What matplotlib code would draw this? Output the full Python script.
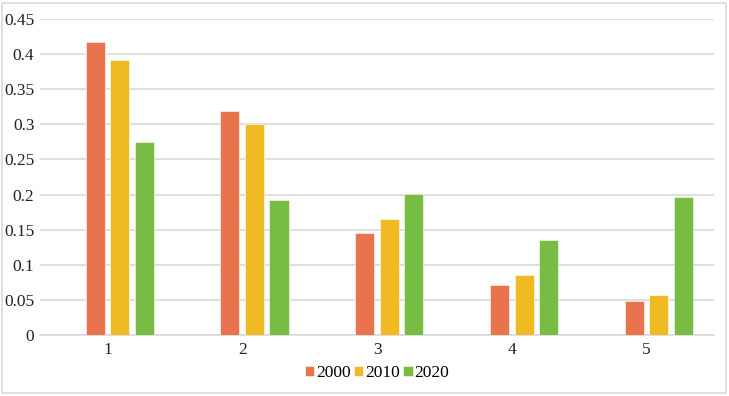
import matplotlib

matplotlib.use("Agg")
import matplotlib.pyplot as plt
import numpy as np
from matplotlib.patches import Rectangle

plt.rcParams["font.family"] = ["Liberation Serif", "DejaVu Serif"]

categories = ["1", "2", "3", "4", "5"]
years = ["2000", "2010", "2020"]
v2000 = [0.417, 0.319, 0.145, 0.071, 0.048]
v2010 = [0.392, 0.300, 0.165, 0.085, 0.057]
v2020 = [0.275, 0.192, 0.201, 0.135, 0.196]
colors = ["#E8734C", "#F0BB22", "#78BC43"]

fig = plt.figure(figsize=(7.29, 3.96), dpi=100)
ax = fig.add_axes([40 / 729, 1 - 335 / 396, 674 / 729, 316 / 396])

x = np.arange(1, len(categories) + 1)
step = 0.182
width = 0.141
# first slot of each group is empty in the original chart
for i, (vals, c, lab) in enumerate(zip([v2000, v2010, v2020], colors, years)):
    off = (i + 1 - 1.5) * step
    ax.bar(x + off, vals, width, color=c, label=lab, edgecolor="white", linewidth=0.4, zorder=3)

ax.set_xlim(0.5, 5.5)
ax.set_ylim(0, 0.45)
ax.set_yticks(np.arange(0, 0.451, 0.05))
ax.set_yticklabels(["0", "0.05", "0.1", "0.15", "0.2", "0.25", "0.3", "0.35", "0.4", "0.45"])
ax.set_xticks(x)
ax.set_xticklabels(categories)
ax.tick_params(axis="both", length=0, labelsize=12.5, colors="#222222")
ax.tick_params(axis="x", pad=5)
ax.tick_params(axis="y", pad=4)
ax.grid(axis="y", color="#D9D9D9", linewidth=1.2, zorder=0)
for s in ["top", "right", "left"]:
    ax.spines[s].set_visible(False)
ax.spines["bottom"].set_color("#D9D9D9")
ax.spines["bottom"].set_linewidth(1.2)

ax.legend(loc="center", bbox_to_anchor=(0.5, (373 - 335) / -316),
          ncol=3, frameon=False, fontsize=12.5, handlelength=0.55, handleheight=0.55,
          handletextpad=0.1, columnspacing=0.2, borderaxespad=0)

fig.patches.append(Rectangle((2 / 729, 3 / 396), 724 / 729, 390 / 396, transform=fig.transFigure,
                             fill=False, edgecolor="#D9D9D9", linewidth=1.2))

fig.savefig("out.png", dpi=100)
